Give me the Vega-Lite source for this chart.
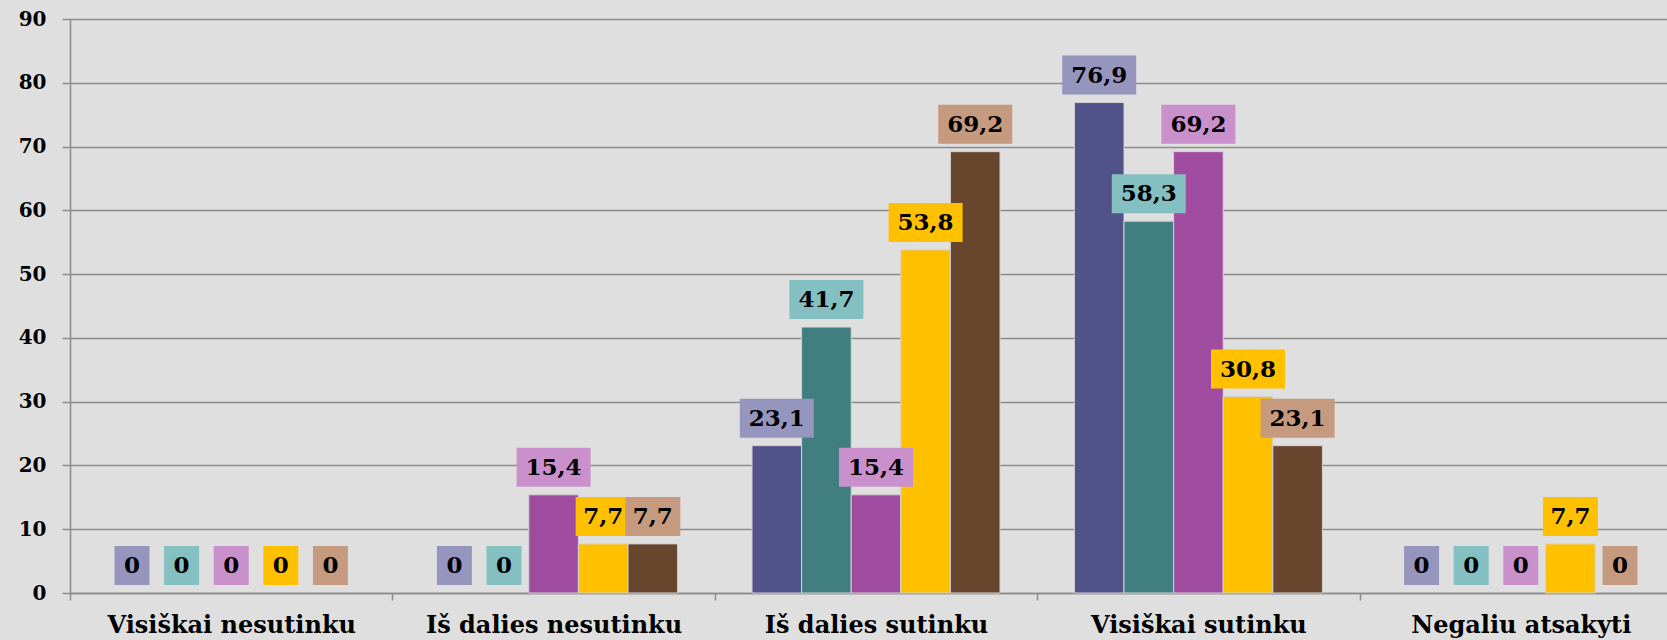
{
  "$schema": "https://vega.github.io/schema/vega-lite/v6.json",
  "width": 1597,
  "height": 574,
  "autosize": {"type": "none"},
  "padding": {"left": 70, "top": 19, "right": 0, "bottom": 47},
  "background": "#dfdfdf",
  "config": {
    "view": {"stroke": null},
    "font": "DejaVu Serif"
  },
  "data": {
    "values": [
      {"cat": "Visiškai nesutinku", "series": "s1", "value": 0},
      {"cat": "Visiškai nesutinku", "series": "s2", "value": 0},
      {"cat": "Visiškai nesutinku", "series": "s3", "value": 0},
      {"cat": "Visiškai nesutinku", "series": "s4", "value": 0},
      {"cat": "Visiškai nesutinku", "series": "s5", "value": 0},
      {"cat": "Iš dalies nesutinku", "series": "s1", "value": 0},
      {"cat": "Iš dalies nesutinku", "series": "s2", "value": 0},
      {"cat": "Iš dalies nesutinku", "series": "s3", "value": 15.4},
      {"cat": "Iš dalies nesutinku", "series": "s4", "value": 7.7},
      {"cat": "Iš dalies nesutinku", "series": "s5", "value": 7.7},
      {"cat": "Iš dalies sutinku", "series": "s1", "value": 23.1},
      {"cat": "Iš dalies sutinku", "series": "s2", "value": 41.7},
      {"cat": "Iš dalies sutinku", "series": "s3", "value": 15.4},
      {"cat": "Iš dalies sutinku", "series": "s4", "value": 53.8},
      {"cat": "Iš dalies sutinku", "series": "s5", "value": 69.2},
      {"cat": "Visiškai sutinku", "series": "s1", "value": 76.9},
      {"cat": "Visiškai sutinku", "series": "s2", "value": 58.3},
      {"cat": "Visiškai sutinku", "series": "s3", "value": 69.2},
      {"cat": "Visiškai sutinku", "series": "s4", "value": 30.8},
      {"cat": "Visiškai sutinku", "series": "s5", "value": 23.1},
      {"cat": "Negaliu atsakyti", "series": "s1", "value": 0},
      {"cat": "Negaliu atsakyti", "series": "s2", "value": 0},
      {"cat": "Negaliu atsakyti", "series": "s3", "value": 0},
      {"cat": "Negaliu atsakyti", "series": "s4", "value": 7.7},
      {"cat": "Negaliu atsakyti", "series": "s5", "value": 0}
    ]
  },
  "transform": [
    {"calculate": "replace(format(datum.value, '.1~f'), '.', ',')", "as": "lab"},
    {"calculate": "length(datum.lab)", "as": "len"}
  ],
  "encoding": {
    "x": {
      "field": "cat",
      "type": "nominal",
      "sort": ["Visiškai nesutinku", "Iš dalies nesutinku", "Iš dalies sutinku", "Visiškai sutinku", "Negaliu atsakyti"],
      "scale": {"range": [0, 1612], "paddingInner": 0, "paddingOuter": 0},
      "axis": {
        "title": null,
        "labelAngle": 0,
        "labelFont": "DejaVu Serif",
        "labelFontWeight": "bold",
        "labelFontSize": 24,
        "labelLimit": 500,
        "labelColor": "#000000",
        "labelPadding": 13,
        "domainColor": "#8c8c8c",
        "domainWidth": 1.5,
        "tickColor": "#8c8c8c",
        "tickWidth": 1.5,
        "tickSize": 7,
        "tickBand": "extent",
        "grid": false
      }
    },
    "xOffset": {
      "field": "series",
      "type": "nominal",
      "sort": ["s1", "s2", "s3", "s4", "s5"],
      "scale": {"paddingInner": 0, "paddingOuter": 0.75}
    },
    "y": {
      "field": "value",
      "type": "quantitative",
      "scale": {"domain": [0, 90], "nice": false},
      "axis": {
        "title": null,
        "values": [0, 10, 20, 30, 40, 50, 60, 70, 80, 90],
        "labelFont": "DejaVu Serif",
        "labelFontWeight": "bold",
        "labelFontSize": 20,
        "labelColor": "#000000",
        "labelPadding": 16,
        "domainColor": "#8c8c8c",
        "domainWidth": 1.5,
        "tickColor": "#8c8c8c",
        "tickWidth": 1.5,
        "tickSize": 8,
        "gridColor": "#8c8c8c",
        "gridWidth": 1.5
      }
    }
  },
  "layer": [
    {
      "transform": [{"filter": "datum.value > 0"}],
      "mark": {"type": "bar", "stroke": "#d2d2d2", "strokeWidth": 1},
      "encoding": {
        "color": {
          "field": "series",
          "type": "nominal",
          "scale": {"domain": ["s1", "s2", "s3", "s4", "s5"], "range": ["#52528a", "#417e80", "#9f4ca0", "#ffc000", "#67462d"]},
          "legend": null
        }
      }
    },
    {
      "mark": {"type": "tick", "orient": "horizontal", "thickness": 39, "yOffset": -27.5, "opacity": 1},
      "encoding": {
        "color": {
          "field": "series",
          "type": "nominal",
          "scale": {"domain": ["s1", "s2", "s3", "s4", "s5"], "range": ["#9595be", "#84bfc2", "#c990cb", "#ffc000", "#c59a7e"]},
          "legend": null
        },
        "size": {
          "field": "len",
          "type": "quantitative",
          "scale": {"type": "threshold", "domain": [2, 3.5], "range": [35, 55, 74]},
          "legend": null
        }
      }
    },
    {
      "mark": {"type": "text", "baseline": "middle", "align": "center", "dy": -27, "font": "DejaVu Serif", "fontWeight": "bold", "fontSize": 23, "color": "#000000"},
      "encoding": {
        "text": {"field": "lab", "type": "nominal"}
      }
    }
  ],
  "resolve": {"scale": {"color": "independent"}}
}
